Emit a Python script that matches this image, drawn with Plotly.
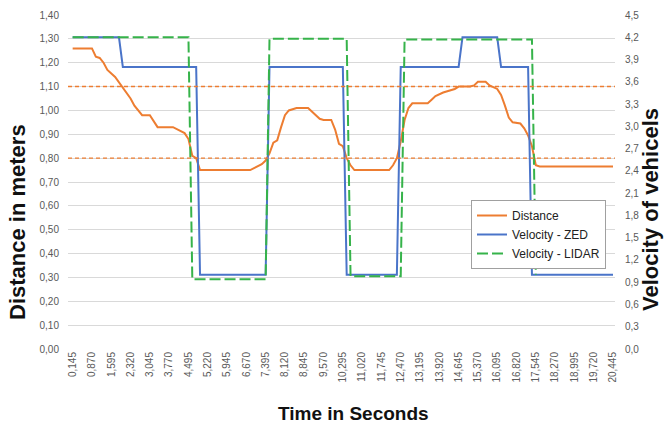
import plotly.graph_objects as go

# ---------------- data ----------------
x_tick_vals = [0.145, 0.870, 1.595, 2.320, 3.045, 3.770, 4.495, 5.220, 5.945, 6.670,
               7.395, 8.120, 8.845, 9.570, 10.295, 11.020, 11.745, 12.470, 13.195,
               13.920, 14.645, 15.370, 16.095, 16.820, 17.545, 18.270, 18.995,
               19.720, 20.445]
x_tick_text = [f"{v:.3f}".replace(".", ",") for v in x_tick_vals]

left_tick_vals = [i / 10 for i in range(15)]
left_tick_text = [f"{v:.2f}".replace(".", ",") for v in left_tick_vals]
right_tick_vals = [round(i * 0.3, 1) for i in range(16)]
right_tick_text = [f"{v:.1f}".replace(".", ",") for v in right_tick_vals]

dist_t = [0.145, 0.870, 1.015, 1.160, 1.305, 1.450, 1.740, 2.030, 2.320, 2.465, 2.755,
          3.045, 3.190, 3.335, 3.915, 4.205, 4.350, 4.495, 4.640, 4.785, 4.930, 6.815,
          7.105, 7.250, 7.395, 7.540, 7.685, 7.830, 7.975, 8.120, 8.265, 8.410, 8.555,
          8.990, 9.135, 9.280, 9.425, 9.570, 9.860, 10.005, 10.150, 10.295, 10.440,
          10.585, 10.730, 12.035, 12.180, 12.325, 12.470, 12.615, 12.760, 12.905,
          13.485, 13.630, 13.775, 14.065, 14.355, 14.500, 14.645, 15.080, 15.225,
          15.370, 15.660, 15.805, 16.095, 16.240, 16.385, 16.530, 16.675, 16.965,
          17.110, 17.255, 17.400, 17.545, 17.690, 20.445]
dist_v = [1.26, 1.26, 1.225, 1.22, 1.20, 1.17, 1.14, 1.095, 1.05, 1.02, 0.98,
          0.98, 0.955, 0.93, 0.93, 0.915, 0.905, 0.88, 0.81, 0.80, 0.75, 0.75,
          0.765, 0.775, 0.79, 0.82, 0.865, 0.875, 0.93, 0.98, 1.00, 1.005, 1.01,
          1.01, 0.995, 0.98, 0.965, 0.96, 0.96, 0.92, 0.86, 0.85, 0.80,
          0.77, 0.75, 0.75, 0.77, 0.80, 0.87, 0.96, 1.01, 1.03,
          1.03, 1.045, 1.06, 1.075, 1.085, 1.09, 1.10, 1.10, 1.105,
          1.12, 1.12, 1.105, 1.09, 1.065, 1.02, 0.97, 0.95, 0.945,
          0.925, 0.895, 0.85, 0.77, 0.765, 0.765]

zed_t = [0.145, 1.885, 2.030, 4.785, 4.930, 7.395, 7.540, 10.295, 10.440, 12.325,
         12.470, 14.645, 14.790, 16.095, 16.240, 17.255, 17.400, 20.445]
zed_v = [4.2, 4.2, 3.8, 3.8, 1.0, 1.0, 3.8, 3.8, 1.0, 1.0,
         3.8, 3.8, 4.2, 4.2, 3.8, 3.8, 1.0, 1.0]

lidar_t = [0.145, 4.495, 4.640, 7.395, 7.540, 10.440, 10.585, 12.470, 12.615, 17.400, 17.545]
lidar_v = [4.2, 4.2, 0.94, 0.94, 4.18, 4.18, 0.98, 0.98, 4.17, 4.17, 1.0]

threshold_values = [1.10, 0.80]

# ---------------- figure ----------------
W, H = 671, 427
L, R, T, B = 68, 56, 15, 78


def px_x(px):
    return (px - L) / (W - L - R)


def px_y(py):
    return (H - B - py) / (H - T - B)


ORANGE = "#ED7D31"
BLUE = "#4A74C9"
GREEN = "#36B34A"

fig = go.Figure()
fig.add_trace(go.Scatter(x=dist_t, y=dist_v, name="Distance", mode="lines",
                         line=dict(color=ORANGE, width=2), yaxis="y"))
fig.add_trace(go.Scatter(x=zed_t, y=zed_v, name="Velocity - ZED", mode="lines",
                         line=dict(color=BLUE, width=2), yaxis="y2"))
fig.add_trace(go.Scatter(x=lidar_t, y=lidar_v, name="Velocity - LIDAR", mode="lines",
                         line=dict(color=GREEN, width=2, dash="11px,4px"), yaxis="y2"))

for v in threshold_values:
    fig.add_shape(type="line", xref="paper", x0=0, x1=1, yref="y", y0=v, y1=v,
                  line=dict(color=ORANGE, width=1.4, dash="4px,3px"), layer="above")

tick_font = dict(family="Liberation Sans", size=10, color="#595959")
title_font = dict(family="Liberation Sans", size=19, color="#111111")

fig.update_layout(
    width=W, height=H,
    margin=dict(l=L, r=R, t=T, b=B, autoexpand=False),
    paper_bgcolor="white", plot_bgcolor="white",
    showlegend=True,
    legend=dict(x=px_x(471), y=px_y(200), xanchor="left", yanchor="top",
                bgcolor="white", bordercolor="#A0A0A0", borderwidth=1,
                font=dict(family="Liberation Sans", size=12, color="#222222"),
                tracegroupgap=0, itemwidth=30),
    xaxis=dict(range=[-0.03, 20.52], tickmode="array", tickvals=x_tick_vals,
               ticktext=x_tick_text, tickangle=-90, showgrid=False, zeroline=False,
               showline=False, ticks="", tickfont=tick_font, automargin=False),
    yaxis=dict(range=[0, 1.4], tickmode="array", tickvals=left_tick_vals,
               ticktext=left_tick_text, showgrid=True, gridcolor="#D9D9D9", gridwidth=1,
               zeroline=False, showline=False, ticks="", tickfont=tick_font,
               ticklabelstandoff=8, automargin=False),
    yaxis2=dict(range=[0, 4.5], overlaying="y", side="right", tickmode="array",
                tickvals=right_tick_vals, ticktext=right_tick_text, showgrid=False,
                zeroline=False, showline=False, ticks="", tickfont=tick_font,
                ticklabelstandoff=9, automargin=False),
    annotations=[
        dict(text="<b>Time in Seconds</b>", xref="paper", yref="paper",
             x=px_x(353), y=px_y(413), showarrow=False, font=title_font,
             xanchor="center", yanchor="middle"),
        dict(text="<b>Distance in meters</b>", xref="paper", yref="paper",
             x=px_x(17), y=px_y(222), showarrow=False, font=dict(title_font, size=22),
             textangle=-90, xanchor="center", yanchor="middle"),
        dict(text="<b>Velocity of vehicels</b>", xref="paper", yref="paper",
             x=px_x(650), y=px_y(209), showarrow=False, font=dict(title_font, size=22),
             textangle=-90, xanchor="center", yanchor="middle"),
    ],
)

fig.write_html(
    "out.html",
    config={"displayModeBar": False},
    post_script="document.body.style.margin='0';document.body.style.overflow='hidden';",
)
